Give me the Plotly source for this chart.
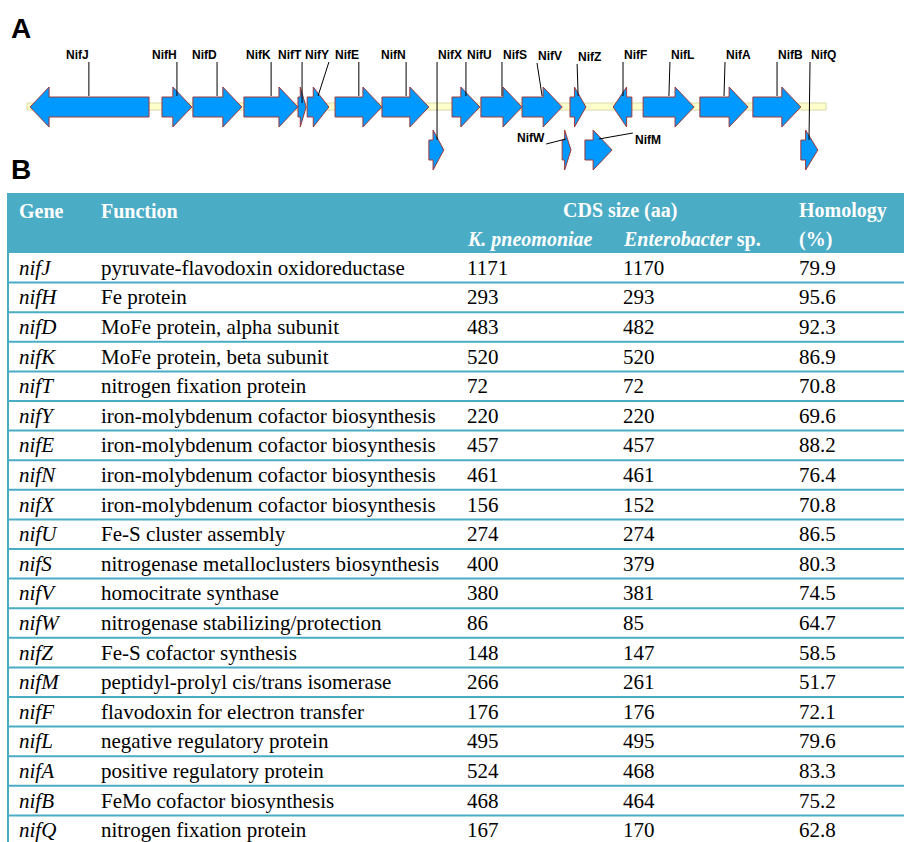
import plotly.graph_objects as go

# ---------------- Data: nif gene cluster map (positions in kb) ----------------
map_genes = ["NifJ", "NifH", "NifD", "NifK", "NifT", "NifY", "NifE", "NifN", "NifX", "NifU",
             "NifS", "NifV", "NifW", "NifZ", "NifM", "NifF", "NifL", "NifA", "NifB", "NifQ"]
gene_start = [0.09, 3.97, 4.88, 6.38, 7.97, 8.24, 9.06, 10.44, 11.82, 12.50,
              13.35, 14.56, 15.74, 15.97, 16.41, 17.24, 18.12, 19.79, 21.35, 22.76]
gene_end = [3.59, 4.85, 6.32, 7.97, 8.21, 8.88, 10.44, 11.82, 12.26, 13.32,
            14.56, 15.74, 16.00, 16.44, 17.21, 17.79, 19.62, 21.21, 22.76, 23.26]
gene_strand = [-1, 1, 1, 1, 1, 1, 1, 1, 1, 1, 1, 1, 1, 1, 1, -1, 1, 1, 1, 1]
gene_lane = [0, 0, 0, 0, 0, 0, 0, 0, 1, 0, 0, 0, 1, 0, 1, 0, 0, 0, 0, 1]
cluster_length = 23.5

# ---------------- Data: table ----------------
table_genes = ["nifJ", "nifH", "nifD", "nifK", "nifT", "nifY", "nifE", "nifN", "nifX", "nifU",
               "nifS", "nifV", "nifW", "nifZ", "nifM", "nifF", "nifL", "nifA", "nifB", "nifQ"]
functions = ["pyruvate-flavodoxin oxidoreductase", "Fe protein", "MoFe protein, alpha subunit",
             "MoFe protein, beta subunit", "nitrogen fixation protein",
             "iron-molybdenum cofactor biosynthesis", "iron-molybdenum cofactor biosynthesis",
             "iron-molybdenum cofactor biosynthesis", "iron-molybdenum cofactor biosynthesis",
             "Fe-S cluster assembly", "nitrogenase metalloclusters biosynthesis",
             "homocitrate synthase", "nitrogenase stabilizing/protection",
             "Fe-S cofactor synthesis", "peptidyl-prolyl cis/trans isomerase",
             "flavodoxin for electron transfer", "negative regulatory protein",
             "positive regulatory protein", "FeMo cofactor biosynthesis",
             "nitrogen fixation protein"]
cds_kpneumoniae = [1171, 293, 483, 520, 72, 220, 457, 461, 156, 274,
                   400, 380, 86, 148, 266, 176, 495, 524, 468, 167]
cds_enterobacter = [1170, 293, 482, 520, 72, 220, 457, 461, 152, 274,
                    379, 381, 85, 147, 261, 176, 495, 468, 464, 170]
homology = [79.9, 95.6, 92.3, 86.9, 70.8, 69.6, 88.2, 76.4, 70.8, 86.5,
            80.3, 74.5, 64.7, 58.5, 51.7, 72.1, 79.6, 83.3, 75.2, 62.8]

# ---------------- Layout / style constants ----------------
W, H = 904, 842
MAP_H = 180                     # map panel height (px) ; map y axis in px units
LANE_Y = [107, 150]
BODY_HALF, HEAD_HALF = 10, 20
HEAD_LEN = 0.56
ARROW_FILL = "#0099FF"
ARROW_LINE = "#A23A3A"
TEAL = "#4BACC6"
KB_PER_PX = 1 / 34.0
X0_KB = -27 * KB_PER_PX
X1_KB = (W - 27) * KB_PER_PX

# label placement for the map: (top x kb, anchor, text y, line top y, line bottom x kb, line bottom y)
label_layout = {
    "NifJ": (1.82, "right", 55, 62, 1.82, 96),
    "NifH": (4.41, "right", 55, 62, 4.41, 96),
    "NifD": (5.59, "right", 55, 62, 5.59, 96),
    "NifK": (7.18, "right", 55, 62, 7.18, 96),
    "NifT": (8.09, "right", 55, 62, 8.09, 103),
    "NifY": (8.88, "right", 55, 62, 8.56, 96),
    "NifE": (9.76, "right", 55, 62, 9.76, 96),
    "NifN": (11.15, "right", 55, 62, 11.15, 96),
    "NifX": (12.06, "left", 55, 62, 12.06, 140),
    "NifU": (12.91, "left", 55, 62, 12.91, 96),
    "NifS": (13.97, "left", 55, 62, 13.97, 96),
    "NifV": (15.00, "left", 56, 63, 15.15, 96),
    "NifZ": (16.18, "left", 57, 64, 16.21, 96),
    "NifF": (17.53, "left", 55, 62, 17.53, 96),
    "NifL": (18.91, "left", 55, 62, 18.88, 96),
    "NifA": (20.53, "left", 55, 62, 20.50, 96),
    "NifB": (22.06, "left", 55, 62, 22.06, 96),
    "NifQ": (23.03, "left", 55, 62, 23.00, 140),
}
# side labels: (text x kb, anchor, text y, line from (x,y) to (x,y))
side_labels = {
    "NifW": (15.27, "right", 138, (15.27, 144), (15.85, 139)),
    "NifM": (17.84, "left", 140, (16.82, 139), (17.82, 133)),
}

# table geometry (table y axis in row units, x axis in px)
TABLE_TOP = 193
HEADER_BOTTOM = 253
ROW_H = 29.6
COL_X = [18, 100, 466, 622, 798]
SERIF = "Liberation Serif, Times New Roman, serif"
SANS = "Liberation Sans, Arial, sans-serif"
FS_HEAD = 20
FS = 21

fig = go.Figure()

# ---------------- Map ----------------
shapes = []
annotations = []

# backbone track
shapes.append(dict(type="rect", xref="x", yref="y", x0=0, x1=cluster_length, y0=103, y1=110,
                   fillcolor="#FFFFCC", line=dict(color="#DADAA8", width=1), layer="below"))

for name, s, e, strand, lane in zip(map_genes, gene_start, gene_end, gene_strand, gene_lane):
    h = min(HEAD_LEN, 0.72 * (e - s))
    yc = LANE_Y[lane]
    if strand > 0:
        xs = [s, e - h, e - h, e, e - h, e - h, s, s]
    else:
        xs = [e, s + h, s + h, s, s + h, s + h, e, e]
    ys = [yc - BODY_HALF, yc - BODY_HALF, yc - HEAD_HALF, yc, yc + HEAD_HALF,
          yc + BODY_HALF, yc + BODY_HALF, yc - BODY_HALF]
    fig.add_trace(go.Scatter(x=xs, y=ys, mode="lines", fill="toself",
                             fillcolor=ARROW_FILL, line=dict(color=ARROW_LINE, width=1),
                             hoverinfo="skip", showlegend=False, xaxis="x", yaxis="y"))

for name in map_genes:
    if name in label_layout:
        tx, anc, ty, ly0, bx, by = label_layout[name]
        shapes.append(dict(type="line", xref="x", yref="y", x0=tx, y0=ly0, x1=bx, y1=by,
                           line=dict(color="black", width=1)))
        annotations.append(dict(xref="x", yref="y", x=tx + (0.03 if anc == "right" else 0.0),
                                y=ty, text="<b>%s</b>" % name, showarrow=False,
                                xanchor=anc, yanchor="middle",
                                font=dict(family=SANS, size=12, color="black"),
                                borderpad=0))
    else:
        tx, anc, ty, p0, p1 = side_labels[name]
        shapes.append(dict(type="line", xref="x", yref="y", x0=p0[0], y0=p0[1], x1=p1[0], y1=p1[1],
                           line=dict(color="black", width=1)))
        annotations.append(dict(xref="x", yref="y", x=tx, y=ty, text="<b>%s</b>" % name,
                                showarrow=False, xanchor=anc, yanchor="middle",
                                font=dict(family=SANS, size=12, color="black"), borderpad=0))

# panel letters
annotations.append(dict(xref="paper", yref="y", x=9 / W, y=28, text="<b>A</b>", showarrow=False,
                        xanchor="left", yanchor="middle", font=dict(family=SANS, size=28, color="black")))
annotations.append(dict(xref="paper", yref="y", x=9 / W, y=169, text="<b>B</b>", showarrow=False,
                        xanchor="left", yanchor="middle", font=dict(family=SANS, size=28, color="black")))

# ---------------- Table ----------------
n = len(table_genes)
y_top = -(HEADER_BOTTOM - TABLE_TOP) / ROW_H
y_bot = (H - HEADER_BOTTOM) / ROW_H

shapes.append(dict(type="rect", xref="x2", yref="y2", x0=7, x1=W + 2, y0=y_top, y1=0,
                   fillcolor=TEAL, line=dict(width=0), layer="below"))
for k in range(1, n):
    shapes.append(dict(type="line", xref="x2", yref="y2", x0=7, x1=W + 2, y0=k, y1=k,
                       line=dict(color=TEAL, width=2)))
shapes.append(dict(type="line", xref="x2", yref="y2", x0=8, x1=8, y0=0, y1=y_bot + 1,
                   line=dict(color=TEAL, width=2)))

hdr1 = (210.5 - HEADER_BOTTOM) / ROW_H
hdr2 = (239 - HEADER_BOTTOM) / ROW_H
hfont = dict(family=SERIF, size=FS_HEAD, color="white")
for txt, x, y, anc in [("<b>Gene</b>", COL_X[0], hdr1, "left"),
                       ("<b>Function</b>", COL_X[1], hdr1, "left"),
                       ("<b>CDS size (aa)</b>", 620, hdr1, "center"),
                       ("<b><i>K. pneomoniae</i></b>", COL_X[2], hdr2, "left"),
                       ("<b><i>Enterobacter</i> sp.</b>", COL_X[3], hdr2, "left"),
                       ("<b>Homology</b>", COL_X[4], hdr1, "left"),
                       ("<b>(%)</b>", COL_X[4], hdr2, "left")]:
    annotations.append(dict(xref="x2", yref="y2", x=x, y=y, text=txt, showarrow=False,
                            xanchor=anc, yanchor="middle", font=hfont, borderpad=0))

cfont = dict(family=SERIF, size=FS, color="black")
for i in range(n):
    row = ["<i>%s</i>" % table_genes[i], functions[i], str(cds_kpneumoniae[i]),
           str(cds_enterobacter[i]), "%.1f" % homology[i]]
    for x, txt in zip(COL_X, row):
        annotations.append(dict(xref="x2", yref="y2", x=x, y=i + 0.5, text=txt, showarrow=False,
                                xanchor="left", yanchor="middle", font=cfont, borderpad=0))

fig.update_layout(
    width=W, height=H, margin=dict(l=0, r=0, t=0, b=0),
    paper_bgcolor="white", plot_bgcolor="white",
    xaxis=dict(domain=[0, 1], range=[X0_KB, X1_KB], visible=False, fixedrange=True),
    yaxis=dict(domain=[1 - MAP_H / H, 1], range=[MAP_H, 0], visible=False, fixedrange=True),
    xaxis2=dict(domain=[0, 1], range=[0, W], visible=False, anchor="y2", fixedrange=True),
    yaxis2=dict(domain=[0, 1 - TABLE_TOP / H], range=[y_bot, y_top], visible=False,
                anchor="x2", fixedrange=True),
    shapes=shapes, annotations=annotations, showlegend=False,
)

fig.write_html("out.html", config={"displayModeBar": False},
               post_script="document.body.style.margin='0';document.body.style.overflow='hidden';")
